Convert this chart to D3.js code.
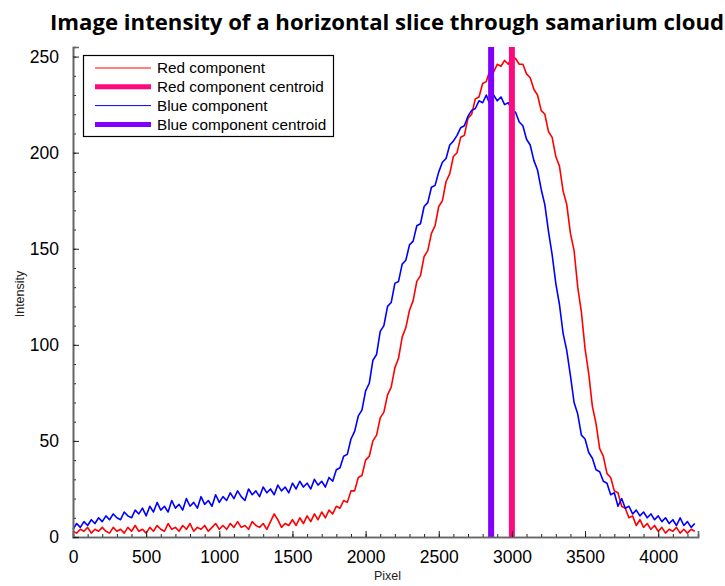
<!DOCTYPE html>
<html>
<head>
<meta charset="utf-8">
<script src="https://cdn.jsdelivr.net/npm/d3@7"></script>
<style>
  body { margin: 0; background: #fff; }
  svg { display: block; }
</style>
</head>
<body>
<svg id="chart" width="725" height="586"></svg>
<script>
// ---- Data ----
const titleText = "Image intensity of a horizontal slice through samarium cloud";
const xLabel = "Pixel";
const yLabel = "Intensity";
const xTicks = [0, 500, 1000, 1500, 2000, 2500, 3000, 3500, 4000];
const yTicks = [0, 50, 100, 150, 200, 250];
const xMax = 4272;
const yMax = 255;
const sampleStep = 25; // pixel spacing of the sampled values below

// Red component intensity, sampled every 25 pixels from 0 to 4250
const redValues = [
  3,2,4,3,5,2,4,3,5,3,2,5,3,4,2,5,3,6,3,4,2,
  5,3,6,4,3,7,4,5,3,6,4,7,3,5,4,6,3,5,7,4,
  6,4,7,5,8,5,6,4,8,6,5,7,4,8,12,9,5,7,6,9,
  6,10,7,11,8,12,9,13,10,14,12,16,15,19,18,24,24,31,32,40,
  42,50,53,62,65,74,78,88,93,104,109,118,123,133,136,146,149,158,162,172,
  175,185,189,198,200,208,209,218,220,228,229,236,237,243,242,246,245,248,246,250,
  249,246,246,241,239,233,230,222,220,211,208,198,193,180,173,158,149,130,117,98,
  85,68,59,46,42,33,31,24,23,16,15,10,11,6,9,5,7,4,6,3,
  5,2,4,3,5,2,4,2,4,3
];

// Blue component intensity, sampled every 25 pixels from 0 to 4250
const blueValues = [
  4,7,5,8,6,9,7,10,8,11,9,12,10,9,13,11,10,14,12,15,11,
  16,13,18,14,16,13,19,15,17,14,20,16,18,15,21,17,19,16,22,18,
  21,19,23,20,24,21,19,25,22,24,21,26,23,25,22,27,24,26,23,28,
  25,29,26,28,25,30,27,29,26,31,29,35,36,42,43,51,55,63,66,76,
  80,92,95,107,110,120,122,132,133,142,144,152,154,162,163,172,174,182,183,190,
  195,197,204,206,209,213,214,219,222,223,227,226,230,225,230,227,229,225,226,222,
  221,216,214,207,204,196,191,181,173,159,147,132,121,106,97,84,70,64,53,51,
  44,41,35,34,29,28,22,23,16,20,15,16,12,14,11,13,10,12,9,11,
  8,10,7,9,6,10,6,8,5,7
];

// Centroid positions (pixel)
const centroidNames = ["Red component centroid", "Blue component centroid"];
const centroidPixels = [3000, 2858];

// Legend entries
const legendLabels = ["Red component", "Red component centroid", "Blue component", "Blue component centroid"];

// ---- Styles ----
const redColor = "#ff0000";
const blueColor = "#0000ff";
const redCentroidColor = "#ff0a7e";
const blueCentroidColor = "#8000ff";

const svg = d3.select("#chart");
const plotLeft = 73, plotRight = 698, plotTop = 47, plotBottom = 537;

const x = d3.scaleLinear().domain([0, xMax]).range([plotLeft, plotRight]);
const y = d3.scaleLinear().domain([0, yMax]).range([plotBottom, plotTop]);

// Title
svg.append("text")
  .attr("x", 50).attr("y", 30)
  .attr("font-family", "'Open Sans', 'DejaVu Sans', sans-serif")
  .attr("font-weight", "bold")
  .attr("font-size", 22)
  .attr("textLength", 674)
  .attr("lengthAdjust", "spacingAndGlyphs")
  .attr("fill", "#000")
  .text(titleText);

// Lines
const redData = redValues.map((v, i) => [i * sampleStep, v]);
const blueData = blueValues.map((v, i) => [i * sampleStep, v]);
const line = d3.line().x(d => x(d[0])).y(d => y(d[1]));

svg.append("path").datum(redData)
  .attr("d", line).attr("fill", "none")
  .attr("stroke", redColor).attr("stroke-width", 1.6)
  .attr("stroke-linejoin", "round");
svg.append("path").datum(blueData)
  .attr("d", line).attr("fill", "none")
  .attr("stroke", blueColor).attr("stroke-width", 1.6)
  .attr("stroke-linejoin", "round");

// Centroid lines
const centroidColors = [redCentroidColor, blueCentroidColor];
svg.selectAll("line.centroid").data(centroidPixels).enter()
  .append("line").attr("class", "centroid")
  .attr("x1", d => x(d)).attr("x2", d => x(d))
  .attr("y1", y(yMax)).attr("y2", y(0))
  .attr("stroke", (d, i) => centroidColors[i])
  .attr("stroke-width", 6);

// Axes
const fontTick = "'Liberation Sans', Arial, sans-serif";
const xAxis = d3.axisBottom(x).tickValues(xTicks).tickSize(-6).tickPadding(14).tickFormat(d3.format("d"));
const xMinor = d3.axisBottom(x).tickValues(d3.range(0, xMax, 100)).tickSize(-3).tickFormat("");
const yAxis = d3.axisLeft(y).tickValues(yTicks).tickSize(-6).tickPadding(14).tickFormat(d3.format("d"));
const yMinor = d3.axisLeft(y).tickValues(d3.range(0, yMax, 10)).tickSize(-3).tickFormat("");

function styleAxis(g) {
  g.select(".domain").attr("stroke", "#666").attr("stroke-width", 1.6);
  g.selectAll(".tick line").attr("stroke", "#222").attr("stroke-width", 1);
  g.selectAll(".tick text").attr("font-family", fontTick).attr("font-size", 17.5).attr("fill", "#000");
}

svg.append("g").attr("transform", `translate(0,${plotBottom})`).call(xMinor).call(styleAxis);
svg.append("g").attr("transform", `translate(0,${plotBottom})`).call(xAxis).call(styleAxis);
svg.append("g").attr("transform", `translate(${plotLeft},0)`).call(yMinor).call(styleAxis);
svg.append("g").attr("transform", `translate(${plotLeft},0)`).call(yAxis).call(styleAxis);

// Axis labels
svg.append("text").attr("x", (plotLeft + plotRight) / 2 + 2).attr("y", 580)
  .attr("text-anchor", "middle").attr("font-family", fontTick).attr("font-size", 12.5)
  .attr("fill", "#222").text(xLabel);
svg.append("text").attr("transform", `translate(24,${(plotTop + plotBottom) / 2 + 2}) rotate(-90)`)
  .attr("text-anchor", "middle").attr("font-family", fontTick).attr("font-size", 12.5)
  .attr("fill", "#222").text(yLabel);

// Legend
const lg = svg.append("g");
lg.append("rect").attr("x", 83.5).attr("y", 55.5).attr("width", 250).attr("height", 81)
  .attr("fill", "#fff").attr("stroke", "#000").attr("stroke-width", 1.2);
const legendColors = [redColor, redCentroidColor, blueColor, blueCentroidColor];
const legendWidths = [1, 5, 1, 5];
legendLabels.forEach((lab, i) => {
  const yy = 68 + i * 18.8;
  lg.append("line").attr("x1", 95).attr("x2", 151).attr("y1", yy).attr("y2", yy)
    .attr("stroke", legendColors[i]).attr("stroke-width", legendWidths[i]);
  lg.append("text").attr("x", 157).attr("y", yy + 5.3)
    .attr("font-family", fontTick).attr("font-size", 15.3).attr("fill", "#000").text(lab);
});
</script>
</body>
</html>
